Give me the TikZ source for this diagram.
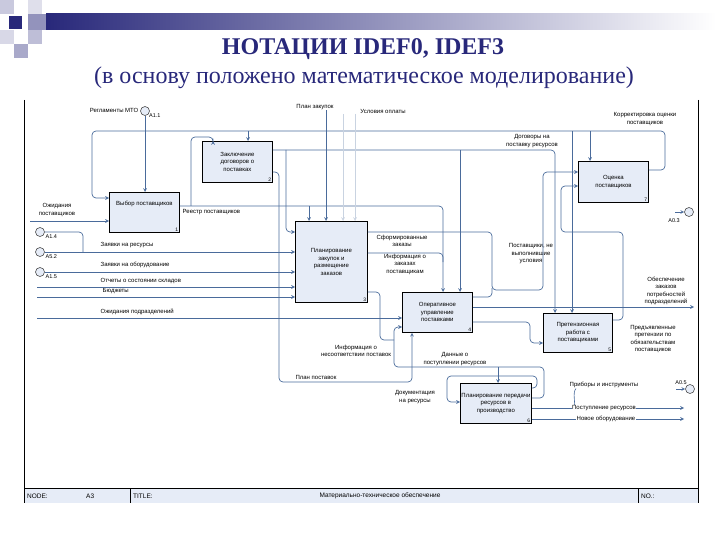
\documentclass[tikz,border=0pt]{standalone}
\usepackage{fontspec}
\setmainfont{Liberation Serif}
\newfontfamily\idef{Liberation Sans}
\usetikzlibrary{positioning, arrows}

\definecolor{navy}{HTML}{28287A}
\definecolor{flowc}{HTML}{4A6B9B}
\definecolor{boxfill}{HTML}{E6ECF7}

\begin{document}
\begin{tikzpicture}[x=1pt, y=-1pt,
  box/.style={rectangle, draw=black, line width=0.8pt, fill=boxfill, anchor=north west, inner sep=1pt, align=center, font=\idef\fontsize{6}{7.5}\selectfont},
  num/.style={anchor=south east, inner sep=1.5pt, font=\idef\fontsize{5}{5}\selectfont},
  lbl/.style={inner sep=0.5pt, align=center, font=\idef\fontsize{6}{7.5}\selectfont},
  tag/.style={inner sep=0.5pt, font=\idef\fontsize{5.5}{6}\selectfont},
  tunnel/.style={circle, draw=black!70, fill=boxfill, minimum size=9pt, inner sep=0pt, line width=0.6pt},
  line/.style={draw=flowc, line width=0.7pt, rounded corners=4pt},
  arrow/.style={line, ->, >=stealth},
  faint/.style={arrow, draw=flowc!30},
  strip/.style={inner sep=0pt, font=\idef\fontsize{6.5}{7}\selectfont}]

  \useasboundingbox (0,0) rectangle (720,540);

  % header
  \shade [left color=navy, right color=white] (46,14) rectangle (716,30);
  \fill [navy!25] (0,0) rectangle (14,14);
  \fill [navy!15] (28,0) rectangle (42,14);
  \fill [navy] (9,16) rectangle (22,29);
  \fill [navy!50] (28,14) rectangle (46,30);
  \fill [navy!18] (0,30) rectangle (14,44);
  \fill [navy!30] (28,30) rectangle (42,44);
  \fill [navy!40] (14,44) rectangle (28,58);

  \node (title) [font=\fontsize{24}{24}\selectfont\bfseries, text=navy] at (363,49) {НОТАЦИИ IDEF0, IDEF3};
  \node (subtitle) [font=\fontsize{24}{24}\selectfont, text=navy] at (364,78) {(в основу положено математическое моделирование)};

  % frame and title strip
  \fill [boxfill] (24,488) rectangle (698,503);
  \draw [line width=0.8pt] (24,100) -- (24,503);
  \draw [line width=0.8pt] (698,100) -- (698,503);
  \draw [line width=0.8pt] (24,488) -- (698,488);
  \draw [line width=0.6pt] (130,488) -- (130,503);
  \draw [line width=0.6pt] (638,488) -- (638,503);
  \node (node) [strip, anchor=west] at (27,496) {NODE:};
  \node (nodeno) [strip, anchor=west] at (86,496) {A3};
  \node (tname) [strip, anchor=west] at (133,496) {TITLE:};
  \node (tval) [strip] at (380,496) {Материально-техническое обеспечение};
  \node (no) [strip, anchor=west] at (641,496) {NO.:};

  % boxes
  \node (b1) [box, minimum width=70, minimum height=40] at (109,192) {Выбор поставщиков\\[10pt]\mbox{}};
  \node (b2) [box, minimum width=70, minimum height=41] at (202,141) {Заключение\\договоров о\\поставках};
  \node (b3) [box, minimum width=72, minimum height=81] at (295,221) {Планирование\\закупок и\\размещение\\заказов};
  \node (b4) [box, minimum width=70, minimum height=40] at (402,292) {Оперативное\\управление\\поставками};
  \node (b5) [box, minimum width=69, minimum height=39] at (543,313) {Претензионная\\работа с\\поставщиками};
  \node (b7) [box, minimum width=70, minimum height=41] at (578,161) {Оценка\\поставщиков};
  \node (b6) [box, minimum width=71, minimum height=40] at (460,383) {Планирование передачи\\ресурсов в\\производство};

  % tunnels
  \node (cr) [tunnel] at (145,111) {};
  \node (c1) [tunnel] at (40,232) {};
  \node (c2) [tunnel] at (40,252) {};
  \node (c3) [tunnel] at (40,272) {};
  \node (ca3) [tunnel] at (689,212) {};
  \node (ca5) [tunnel] at (690,389) {};

  \coordinate (inOzh) at (30,221);
  \coordinate (inOtch) at (37,287);
  \coordinate (inBud) at (37,297);
  \coordinate (inPodr) at (37,318);
  \coordinate (outObes) at (694,307);
  \coordinate (outPost) at (684,408);
  \coordinate (outNovo) at (684,419);
  \coordinate (toA3) at (675,212);
  \coordinate (toA5) at (676,389);

  % labels
  \node (lreg) [lbl, anchor=east] at (139,110) {Регламенты МТО};
  \node (la11) [tag, below right=-1pt and 0pt of cr] {А1.1};
  \node (lplan) [lbl] at (315,107) {План закупок};
  \node (lusl) [lbl] at (383,111) {Условия оплаты};
  \node (lkorr) [lbl] at (645,119) {Корректировка оценки\\поставщиков};
  \node (ldog) [lbl] at (532,141) {Договоры на\\поставку ресурсов};
  \node (lreestr) [lbl, anchor=west] at (182,212) {Реестр поставщиков};
  \node (lozh) [lbl] at (57,210) {Ожидания\\поставщиков};
  \node (lc1) [tag, anchor=west] at (45,237) {А1.4};
  \node (lc2) [tag, anchor=west] at (45,257) {А5.2};
  \node (lc3) [tag, anchor=west] at (45,277) {А1.5};
  \node (lzr) [lbl, anchor=west] at (100,245) {Заявки на ресурсы};
  \node (lzo) [lbl, anchor=west] at (100,265) {Заявки на оборудование};
  \node (lotch) [lbl, anchor=west] at (100,281) {Отчеты о состоянии складов};
  \node (lbud) [lbl, anchor=west] at (102,291) {Бюджеты};
  \node (lpodr) [lbl, anchor=west] at (100,312) {Ожидания подразделений};
  \node (lsform) [lbl] at (402,241) {Сформированные\\заказы};
  \node (linf) [lbl] at (405,264) {Информация о\\заказах\\поставщикам};
  \node (lpost) [lbl] at (531,254) {Поставщики, не\\выполнившие\\условия};
  \node (lobes) [lbl] at (666,291) {Обеспечение\\заказов\\потребностей\\подразделений};
  \node (lpred) [lbl] at (653,339) {Предъявленные\\претензии по\\обязательствам\\поставщиков};
  \node (lnes) [lbl] at (356,351) {Информация о\\несоответствии поставок};
  \node (ldan) [lbl] at (455,359) {Данные о\\поступлении ресурсов};
  \node (lplp) [lbl] at (316,377) {План поставок};
  \node (ldoc) [lbl] at (415,397) {Документация\\на ресурсы};
  \node (lprib) [lbl] at (604,385) {Приборы и инструменты};
  \node (la03) [tag] at (674,221) {А0.3};
  \node (la05) [tag] at (681,383) {А0.5};

  % connectors
  \draw [arrow] (cr.south) -- (cr |- b1.north);
  \draw [arrow] (inOzh) -- (inOzh -| b1.west);
  \draw [line] (c1.east) -| (83,252);
  \draw [arrow] (c2.east) -- (c2 -| b3.west);
  \draw [arrow] (c3.east) -- (c3 -| b3.west);
  \draw [arrow] (inOtch) -- (inOtch -| b3.west);
  \draw [arrow] (inBud) -- (inBud -| b3.west);
  \draw [arrow] (inPodr) -- (inPodr -| b4.west);

  \draw [arrow] (b1.east |- 0,206) -| (b4.north -| 443,0);
  \draw [arrow] (191,206) |- (213,137) -- (b2.north -| 213,0);
  \draw [arrow] (309,206) -- (b3.north -| 309,0);

  \draw [line] (b3.east |- 0,253) -| (443,262);
  \draw [arrow] (b3.east |- 0,232) -| (492,290) -| (543,172) -- (b7.west |- 0,172);
  \draw [line] (b4.east |- 0,297) -| (492,288);
  \draw [arrow] (b4.east |- 0,307) -- (outObes);
  \draw [arrow] (b4.east |- 0,322) -| (530,343) -- (b5.west |- 0,343);
  \draw [arrow] (b5.east |- 0,320) -| (623,232) -| (561,186) -- (b7.west |- 0,186);

  \draw [arrow] (b2.east |- 0,150) -| (b5.north -| 555,0);
  \draw [arrow] (286,150) |- (b3.west |- 0,232);
  \draw [arrow] (460,150) -- (b4.north -| 460,0);
  \draw [arrow] (b2.east |- 0,172) -| (279,382) -| (b4.south -| 412,0);

  \draw [arrow] (b7.east |- 0,170) -| (665,131) -- (92,131) |- (b1.west |- 0,198);
  \draw [arrow] (248,131) -- (b2.north -| 248,0);
  \draw [arrow] (590,131) -- (b7.north -| 590,0);
  \draw [arrow] (572,131) -- (b5.north -| 572,0);

  \draw [arrow] (lplan.south -| 326,0) -- (b3.north -| 326,0);
  \draw [faint] (lusl.south -| 343,0) -- (b3.north -| 343,0);
  \draw [faint] (lusl.south -| 355,0) -- (b3.north -| 355,0);

  \draw [line] (b3.east |- 0,292) -| (380,340) -- (394,340);
  \draw [arrow] (b6.east |- 0,398) -| (544,367) -| (394,327) -- (b4.west |- 0,327);
  \draw [arrow] (498,367) -- (b6.north -| 498,0);
  \draw [arrow] (b6.east |- 0,388) -| (537,376) -| (447,402) -- (b6.west |- 0,402);

  \draw [arrow] (b6.east |- 0,408) -- (outPost);
  \draw [arrow] (b6.east |- 0,419) -- (outNovo);
  \draw [draw=flowc, line width=0.6pt] ([xshift=7pt]lprib.south west) .. controls +(-4,4) and +(2,-3) .. (574,407);
  \draw [arrow] (toA3) -- (ca3.west);
  \draw [arrow] (toA5) -- (ca5.west);

  \node (lpostr) [lbl, fill=white] at (604,408) {Поступление ресурсов};
  \node (lnovo) [lbl, fill=white] at (606,419) {Новое оборудование};

  % box numbers
  \node (n1) [num] at (b1.south east) {1};
  \node (n2) [num] at (b2.south east) {2};
  \node (n3) [num] at (b3.south east) {3};
  \node (n4) [num] at (b4.south east) {4};
  \node (n5) [num] at (b5.south east) {5};
  \node (n6) [num] at (b6.south east) {6};
  \node (n7) [num] at (b7.south east) {7};
\end{tikzpicture}
\end{document}
